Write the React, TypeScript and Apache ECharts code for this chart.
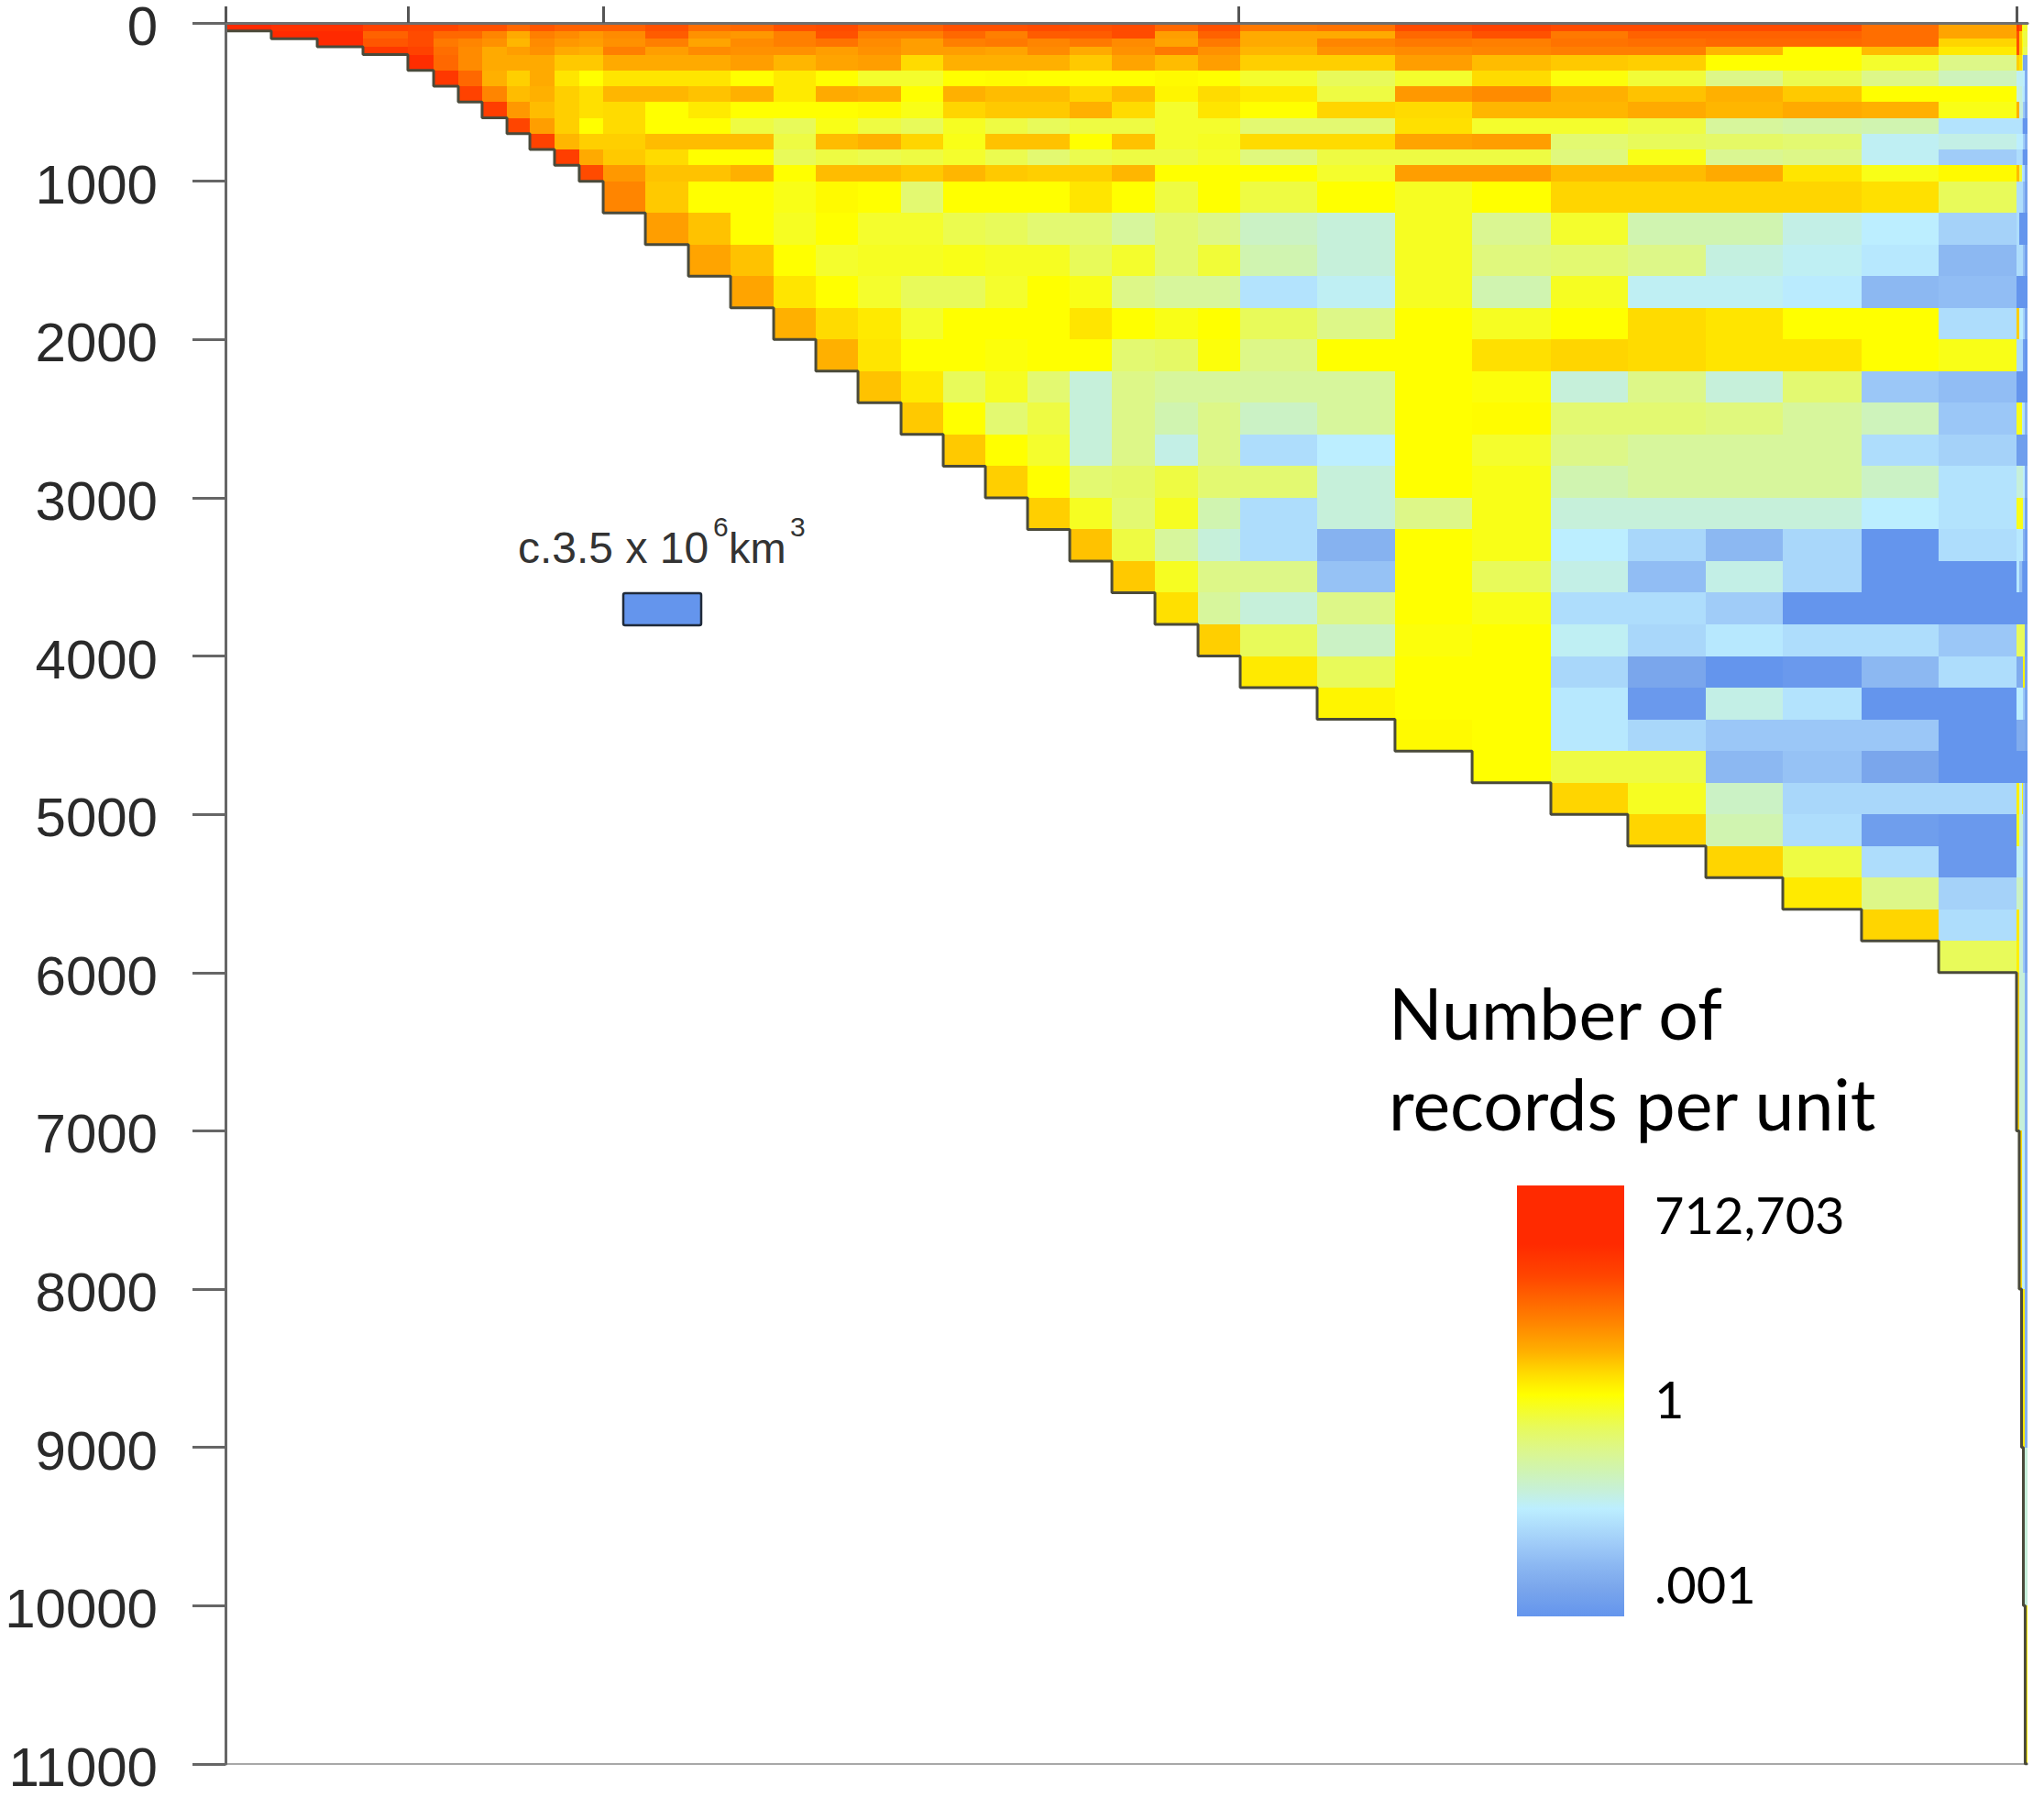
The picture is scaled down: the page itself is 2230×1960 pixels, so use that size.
import React, { useEffect, useRef } from "react";
import * as echarts from "echarts";

// Cumulative share of the horizontal axis (no labels in the source).
const xEdges = [0, 2.54, 5.09, 7.63, 10.12, 11.55, 12.92, 14.24, 15.62, 16.89, 18.26, 19.63, 20.96, 23.3, 25.69, 28.03, 30.42, 32.76, 35.1, 37.49, 39.83, 42.17, 44.51, 46.85, 49.19, 51.58, 53.97, 56.31, 60.58, 64.9, 69.18, 73.55, 77.82, 82.15, 86.42, 90.79, 95.07, 99.39, 99.54, 99.67, 99.77, 99.87, 100];
const depthEdges = [0, 50, 100, 150, 200, 300, 400, 500, 600, 700, 800, 900, 1000, 1200, 1400, 1600, 1800, 2000, 2200, 2400, 2600, 2800, 3000, 3200, 3400, 3600, 3800, 4000, 4200, 4400, 4600, 4800, 5000, 5200, 5400, 5600, 5800, 6000, 7000, 8000, 9000, 10000, 11000];
const xTickValues = [0, 10.12, 20.96, 56.21, 99.39];
const depthTickMax = 11000;
const depthTickStep = 1000;

// log10(records per unit) of each cell; a row at index r starts in column r.
const r0 = [4, 3.8, 3.8, 3.3, 3.2, 3.2, 3, 3, 2.6, 2.9, 2.7, 2.7, 2.7, 3, 2.5, 2.6, 3, 3.1, 2.7, 2.7, 3, 3, 3.1, 3, 3.1, 2.6, 3, 2.3, 2.4, 3.1, 3.3, 3.1, 3.1, 3.1, 3.1, 2.5, 1.6, 3.6, 3, 0, -0.2, -0.2];
const r1 = [4, 4, 2.7, 3.1, 2.6, 2.6, 2.1, 1.5, 2.2, 2, 1.8, 2, 2.8, 1.9, 1.8, 2.2, 3, 2.2, 2.2, 2.6, 2.2, 2.8, 2.8, 3.1, 1.7, 2.7, 1.5, 1.5, 2.6, 3, 2.3, 2.7, 2.7, 2.7, 2.5, 1.6, 3, 1, -0.1, -0.3, -0.3];
const r2 = [4, 2.9, 3.1, 2.3, 2.1, 1.9, 1.3, 2, 1.8, 1.7, 1.9, 2.2, 1.6, 2, 2.2, 2.4, 2, 1.7, 2.2, 2.3, 2.1, 2.3, 2, 1.6, 2.3, 1.5, 2.1, 2.3, 2.2, 2.4, 2.5, 2.6, 2.6, 2.5, 0.8, 3, 1, 0, -0.3, -0.3];
const r3 = [3.6, 3.3, 2.5, 2, 1.5, 1.7, 1.9, 1.5, 1.4, 2.2, 1.7, 2, 1.9, 1.9, 1.7, 1.9, 1.7, 1.7, 1.6, 2, 1.5, 1.9, 2.3, 1.9, 1.3, 1.9, 2, 2.1, 2.2, 2.2, 1.3, 0, 1.2, 0.4, 3, 1, 0, -0.4, -0.4];
const r4 = [3.9, 2.6, 2, 1.5, 1.5, 1.5, 1, 1, 1.5, 1.5, 1.5, 1.7, 1.3, 1.6, 1.7, 0.7, 1.4, 1.4, 1.4, 1, 1.6, 1.2, 1.7, 0.9, 0.9, 1.7, 1.2, 1, 0.9, 0, 0, -0.2, -0.6, 0.9, 0.5, -0.5, -2.6, -2.6];
const r5 = [3.6, 2.6, 1.4, 0.9, 1.5, 0.5, 0, 0.5, 0.5, 0.5, 0, 0.4, 0, -0.2, -0.2, 0, 0.05, 0, 0, 0, 0.1, 0, -0.2, -0.4, -0.2, 0.7, -0.05, -0.25, -0.6, -0.35, -0.6, -0.85, -1.2, -1.2, -1.2, -1.3, -2.5];
const r6 = [3.3, 2.1, 1.2, 1.4, 0.9, 0.6, 1.3, 1.3, 1.1, 1.4, 0.4, 1.5, 1.4, 0, 1.4, 1.2, 1.2, 0.8, 1.2, 0.2, 0.7, 0.4, -0.3, 1.8, 2, 1.4, 1.1, 1.4, 1, 0, 0, -1, -1, -1.2, -1.4, -2.5];
const r7 = [3.4, 1.8, 1.2, 0.9, 0.6, 0.7, 0, 0.4, 0, 0, 0, 0.1, -0.1, 0.8, 1, 1, 1.4, 0.7, -0.2, 0.5, 0, 0.8, 0.7, 1.3, 1.3, 1.5, 1.3, 1.5, 1.4, -0.1, 1.4, -1, -1, -2, -2.6];
const r8 = [3.2, 1.7, 0.9, 0, 0.7, 0, 0, -0.3, -0.4, -0.1, -0.3, -0.4, -0.15, -0.3, -0.4, -0.3, -0.3, -0.2, -0.2, -0.5, -0.5, 0.6, -0.2, -0.2, -0.3, -0.7, -0.75, -0.8, -1.5, -1.5, -1.5, -1.9, -3, -3];
const r9 = [3.3, 1.3, 0.9, 0.9, 1.2, 1.2, 1.2, -0.3, 1.2, 1.4, 0.8, -0.1, 1.1, 1.1, 0, 1.1, -0.2, -0.15, 0.7, 0.7, 1.6, 1.7, -0.5, -0.4, -0.45, -0.5, -1.2, -1.1, -1.3, -1.3, -1.3, -1.9, -2.5];
const r10 = [3.4, 1.5, 1, 0.7, 0, 0, -0.4, -0.3, -0.35, -0.3, -0.2, -0.35, -0.5, -0.35, -0.3, -0.3, -0.2, -0.55, -0.3, -0.3, -0.3, -0.55, -0.1, -0.65, -0.6, -1.2, -1.9, -1.6, -1.6, -2, -3, -3];
const r11 = [3.1, 1.8, 1.1, 1.1, 1.4, 0, 1.2, 1.2, 1, 1.3, 1, 0.9, 0.9, 1.3, 0, 0, 0, -0.2, 1.7, 1.7, 1.2, 1.2, 1.5, 0.5, -0.1, 0.1, 1.2, -0.3, -1.4, -1.6, -2.6];
const r12 = [2.1, 1, 0, 0, -0.1, 0.1, 0, -0.5, 0, 0, 0, 0.5, 0, -0.3, 0, -0.3, 0, -0.15, 0, 0.8, 0.8, 0.8, 0.8, 0.6, -0.4, -1.6, -1.6, -1.6, -2.2, -2.7];
const r13 = [1.7, 1.1, 0, -0.15, 0, -0.2, -0.2, -0.35, -0.4, -0.5, -0.5, -0.7, -0.5, -0.6, -0.9, -1, -0.15, -0.65, -0.2, -0.8, -0.8, -1.1, -1.3, -1.8, -1.6, -3, -3, -3, -3];
const r14 = [1.6, 1.1, 0, -0.2, -0.15, -0.15, -0.1, -0.15, -0.15, -0.4, -0.2, -0.5, -0.25, -0.8, -1, -0.15, -0.55, -0.5, -0.6, -1.05, -1.2, -1.4, -2.3, -1.6, -1.6, -1.6, -2.2, -2.7];
const r15 = [1.6, 0.5, 0, -0.2, -0.4, -0.4, -0.2, 0, -0.1, -0.6, -0.7, -0.7, -1.5, -1.2, -0.15, -0.8, -0.15, -1.2, -1.2, -1.35, -2.3, -2.2, -3, -3, -3, -3, -3];
const r16 = [1.4, 0.7, 0.4, -0.2, 0, 0, 0, 0.5, 0, -0.1, 0, -0.4, -0.6, 0, -0.15, 0, 0.7, 0.5, 0, 0, -1.6, 0.9, -1.3, -1.3, -1.8, -2.6];
const r17 = [1.4, 0.5, 0, 0, -0.05, 0, 0, -0.5, -0.45, -0.05, -0.6, 0, 0, 0.6, 0.8, 0.7, 0.5, 0.5, 0, -0.1, -1.6, -1.6, -1.6, -2.8, -3];
const r18 = [1.1, 0.4, -0.4, -0.15, -0.5, -1, -0.6, -0.7, -0.7, -0.7, -0.7, 0, -0.05, -1, -0.6, -1, -0.5, -2, -2.2, -3, -3, -3, -3, -3];
const r19 = [1, 0, -0.5, -0.3, -1, -0.6, -0.8, -0.6, -0.9, -0.7, 0, 0.05, -0.5, -0.5, -0.55, -0.7, -0.85, -2, -0.1, -0.1, -1.4, -1.6, -2.4];
const r20 = [1, 0, -0.2, -1, -0.6, -1.1, -0.6, -1.6, -1.3, 0, -0.2, -0.6, -0.7, -0.7, -0.7, -1.6, -1.8, -2.8, -2.8, -2.8, -2.8, -2.8];
const r21 = [0.9, 0, -0.5, -0.45, -0.3, -0.5, -0.5, -1, 0, -0.1, -0.8, -0.7, -0.7, -0.7, -0.9, -1.5, -1, -1, -1, -1.3, -2.5];
const r22 = [0.9, -0.15, -0.5, -0.15, -0.8, -1.6, -1, -0.6, -0.1, -1, -1, -1, -1, -1.3, -1.5, -0.1, -0.1, -0.1, -1.6, -2.7];
const r23 = [1.1, -0.3, -0.7, -1, -1.6, -2.4, 0, -0.1, -1.3, -1.7, -2.3, -1.7, -3, -1.6, -1.4, -1.4, -1.4, -2.4, -2.8];
const r24 = [1, -0.15, -0.6, -0.6, -2.1, 0, -0.4, -1.1, -2.2, -1.1, -1.7, -3, -3, -1.4, -2.2, -2.8, -3, -3];
const r25 = [0.6, -0.7, -1, -0.6, 0, -0.1, -1.6, -1.6, -1.9, -3, -3, -3, -3, -3, -3, -3, -3];
const r26 = [0.9, -0.4, -0.9, -0.05, 0, -1.2, -1.7, -1.4, -1.6, -1.6, -2, -0.4, -0.4, -0.4, -0.4, -2.7];
const r27 = [0.4, -0.4, 0, 0, -1.7, -2.6, -3, -2.9, -2.3, -1.6, -2.5, -2.5, -2.5, 0.2, -2.6];
const r28 = [0.2, 0, 0, -1.4, -2.9, -1.1, -1.5, -3, -3, -1.3, -1.3, -1.3, -2, -2.6];
const r29 = [0.1, 0, -1.4, -1.7, -2, -2, -2, -3, -2.5, -2.5, -2.5, -2.5, -2.6];
const r30 = [0, -0.3, -0.3, -2.3, -2.1, -2.6, -3, -3, -3, -3, -3, -3];
const r31 = [0.8, -0.15, -0.9, -1.7, -1.7, -1.7, 0.3, -1, 0.1, -2, -2.6];
const r32 = [0.8, -0.8, -1.6, -2.8, -2.9, -0.1, -1, -1, -2, -2.6];
const r33 = [0.8, -0.3, -1.6, -2.9, -1.2, -1.2, -1.2, -2, -2.6];
const r34 = [0.4, -0.6, -1.8, -0.9, -0.9, -0.9, -2, -2.6];
const r35 = [0.8, -1.6, 0.4, -1, -1, -2, -2.6];
const r36 = [-0.4, 0.3, -1, -1, -2, -2.6];
const r37 = [0.8, -1, -1, -1, -2.4];
const r38 = [0.7, -1.2, -1.2, -2.4];
const r39 = [0.4, 0.4, -2.4];
const r40 = [-1, -1];
const r41 = [0.4];
const rows = [r0, r1, r2, r3, r4, r5, r6, r7, r8, r9, r10, r11, r12, r13, r14, r15, r16, r17, r18, r19, r20, r21, r22, r23, r24, r25, r26, r27, r28, r29, r30, r31, r32, r33, r34, r35, r36, r37, r38, r39, r40, r41];

// Colour ramp.
const rampValues = [5.85, 4, 3.2, 2.2, 1.4, 0.7, 0, -0.4, -0.6, -0.8, -1, -1.3, -1.9, -2.3, -2.6, -3];
const rampColors = ["#FF2A00", "#FF2A00", "#FF4500", "#FF7F00", "#FFB000", "#FFDB00", "#FFFF00", "#E8FA5A", "#DDF788", "#D0F4B0", "#C6F0DA", "#BCEEFF", "#A0CCF8", "#8CB8F2", "#7AA6EC", "#6495ED"];
const rampOffsets = [0, 0.136, 0.21, 0.31, 0.386, 0.436, 0.486, 0.56, 0.61, 0.66, 0.71, 0.75, 0.83, 0.88, 0.935, 1];

const legendTitle = ["Number of", "records per unit"];
const legendLabels = ["712,703", "1", ".001"];

const hex = (c: string) => [1, 3, 5].map((i) => parseInt(c.slice(i, i + 2), 16));
function colorFor(v: number) {
  for (let i = 1; i < rampValues.length; i++) {
    if (v >= rampValues[i]) {
      const t = (rampValues[i - 1] - v) / (rampValues[i - 1] - rampValues[i]);
      const a = hex(rampColors[i - 1]);
      const b = hex(rampColors[i]);
      return `rgb(${a.map((x, k) => Math.round(x + (b[k] - x) * t)).join(",")})`;
    }
  }
  return rampColors[rampColors.length - 1];
}

const cells: number[][] = [];
rows.forEach((row, r) => {
  row.forEach((v, j) => {
    const c = r + j;
    cells.push([xEdges[c], xEdges[c + 1], depthEdges[r], depthEdges[r + 1], v]);
  });
});

const outline: number[][] = [];
for (let c = 0; c < xEdges.length - 1; c++) {
  outline.push([xEdges[c], depthEdges[c + 1]]);
  outline.push([xEdges[c + 1], depthEdges[c + 1]]);
}

const SANS = '"Liberation Sans", Arial, sans-serif';
const LEGEND = 'Lato, "Noto Sans", sans-serif';

export default function App() {
  const ref = useRef<HTMLDivElement>(null);
  useEffect(() => {
    const chart = echarts.init(ref.current!, undefined, { renderer: "svg" });
    const text = (t: string, x: number, y: number, size: number, font: string, fill: string) => ({
      type: "text",
      x,
      y,
      silent: true,
      style: { text: t, font: `${size}px ${font}`, fill, verticalAlign: "middle", textAlign: "left" },
    });
    chart.setOption({
      animation: false,
      backgroundColor: "#ffffff",
      grid: { left: 246, right: 18, top: 25, bottom: 36, containLabel: false, outerBoundsMode: "none" },
      xAxis: [
        {
          type: "value",
          position: "top",
          min: 0,
          max: 100,
          z: 10,
          splitLine: { show: false },
          axisLabel: { show: false },
          axisLine: { show: true, lineStyle: { color: "#6f6f6f", width: 3 } },
          axisTick: { show: true, length: 18, customValues: xTickValues, lineStyle: { color: "#555555", width: 3 } },
        },
        {
          type: "value",
          position: "bottom",
          min: 0,
          max: 100,
          z: 1,
          splitLine: { show: false },
          axisLabel: { show: false },
          axisTick: { show: false },
          axisLine: { show: true, onZero: false, lineStyle: { color: "#a8a8a8", width: 2 } },
        },
      ],
      yAxis: {
        type: "value",
        inverse: true,
        min: 0,
        max: depthTickMax,
        interval: depthTickStep,
        z: 10,
        splitLine: { show: false },
        axisLine: { show: true, onZero: false, lineStyle: { color: "#666666", width: 3 } },
        axisTick: { show: true, length: 36, lineStyle: { color: "#666666", width: 3 } },
        axisLabel: {
          show: true,
          margin: 74,
          color: "#2a2a2a",
          showMinLabel: true,
          showMaxLabel: true,
          formatter: (v: number) => `{d|${v}}`,
          rich: {
            d: {
              fontFamily: SANS,
              fontSize: 60,
              lineHeight: 46,
              color: "#2a2a2a",
              padding: [7, 0, 0, 0],
            },
          },
        },
      },
      series: [
        {
          type: "custom",
          xAxisIndex: 0,
          yAxisIndex: 0,
          clip: false,
          z: 2,
          encode: { x: [0, 1], y: [2, 3] },
          data: cells,
          renderItem: (_p: any, api: any) => {
            const a = api.coord([api.value(0), api.value(2)]);
            const b = api.coord([api.value(1), api.value(3)]);
            const x = Math.round(a[0]);
            const y = Math.round(a[1]);
            return {
              type: "rect",
              shape: { x, y, width: Math.max(Math.round(b[0]) - x, 1), height: Math.round(b[1]) - y },
              style: { fill: colorFor(api.value(4)), stroke: null },
            };
          },
        },
        {
          type: "line",
          xAxisIndex: 0,
          yAxisIndex: 0,
          data: outline,
          symbol: "none",
          silent: true,
          z: 3,
          lineStyle: { color: "#4a4a3a", width: 3 },
        },
      ],
      graphic: {
        elements: [
          text("c.3.5 x 10", 565, 597, 48, SANS, "#333333"),
          text("6", 778, 574, 30, SANS, "#333333"),
          text("km", 795, 597, 47, SANS, "#333333"),
          text("3", 862, 574, 30, SANS, "#333333"),
          {
            type: "rect",
            shape: { x: 680, y: 647, width: 85, height: 35, r: 2 },
            style: { fill: "#6495ED", stroke: "#1f2a3a", lineWidth: 2.5 },
            silent: true,
          },
          text(legendTitle[0], 1515, 1104, 77, LEGEND, "#000000"),
          text(legendTitle[1], 1515, 1203, 77, LEGEND, "#000000"),
          {
            type: "rect",
            shape: { x: 1655, y: 1293, width: 117, height: 470 },
            style: {
              fill: new echarts.graphic.LinearGradient(
                0,
                0,
                0,
                1,
                rampOffsets.map((offset, i) => ({ offset, color: rampColors[i] }))
              ),
            },
            silent: true,
          },
          text(legendLabels[0], 1805, 1324, 56, LEGEND, "#000000"),
          text(legendLabels[1], 1805, 1525, 56, LEGEND, "#000000"),
          text(legendLabels[2], 1805, 1727, 56, LEGEND, "#000000"),
        ],
      },
    });
    return () => chart.dispose();
  }, []);
  return <div ref={ref} style={{ position: "absolute", left: 0, top: 0, width: 2230, height: 1960 }} />;
}
